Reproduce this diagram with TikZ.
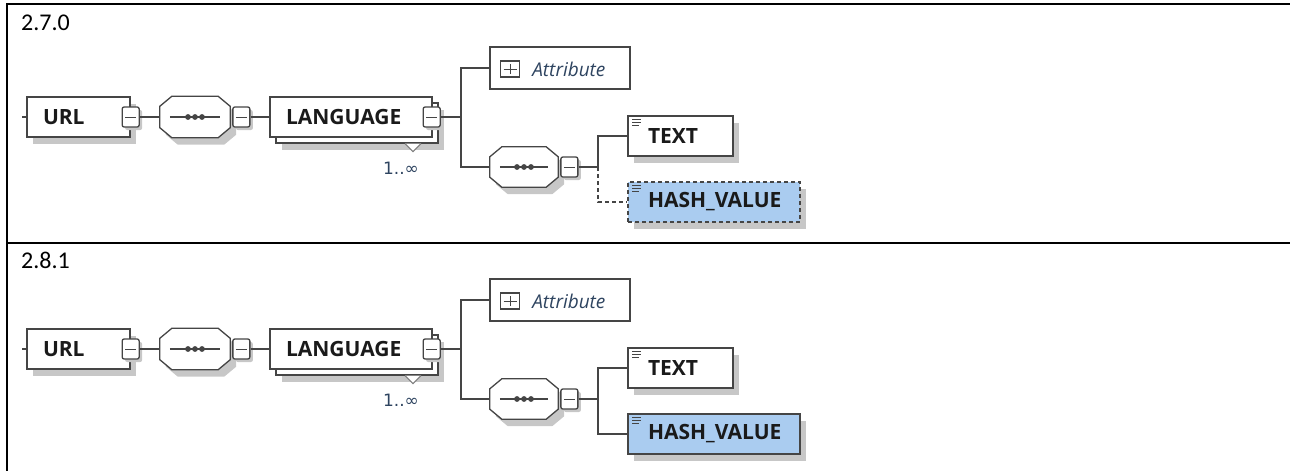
\documentclass[tikz,border=0pt]{standalone}
\usepackage{fontspec}
\setmainfont{Carlito}
\newfontfamily\xsdfont{Open Sans}
\newfontfamily\xsdsym{DejaVu Sans}
\usetikzlibrary{shadows, positioning}
\definecolor{boxline}{HTML}{454545}
\definecolor{labeltext}{HTML}{1A1A1A}
\definecolor{hashfill}{RGB}{170,204,240}
\definecolor{cardtext}{HTML}{2E4460}
\newcommand\xsdlabel{\xsdfont\bfseries\fontsize{21}{23}\selectfont}
\newcommand\xsdattr{\xsdfont\itshape\fontsize{19}{21}\selectfont}
% octagon of a sequence compositor, drawn round its node
\newcommand\drawseq[1]{%
  \draw[seqline, boxshadow] ([xshift=12pt]#1.north west) -- ([xshift=-12pt]#1.north east)
    -- ([yshift=-10pt]#1.north east) -- ([yshift=10pt]#1.south east)
    -- ([xshift=-12pt]#1.south east) -- ([xshift=12pt]#1.south west)
    -- ([yshift=10pt]#1.south west) -- ([yshift=-10pt]#1.north west) -- cycle;
  \draw[boxline, line width=1.1pt] ([xshift=10pt]#1.west) -- ([xshift=-10pt]#1.east);
  \foreach \k in {-7,0,7}
    \fill[boxline] ([xshift=\k pt]#1.center) circle (2.9pt);
}

\tikzset{
  frame/.style={line width=2.2pt, black},
  conn/.style={draw=boxline, line width=1.3pt},
  boxshadow/.style={drop shadow={shadow xshift=6pt, shadow yshift=-7pt, fill=black!22, opacity=1}},
  elembase/.style={draw=boxline, line width=1.3pt, fill=white, text width=#1, align=left,
    inner xsep=16pt, inner ysep=0pt, minimum height=40pt, font=\xsdlabel, text=labeltext},
  elem/.style={elembase=#1, boxshadow},
  seq/.style={rectangle, inner sep=0pt},
  seqline/.style={draw=boxline, line width=1.3pt, fill=white},
  minus/.style={draw=boxline, line width=1.3pt, fill=white, rounded corners=2pt, inner sep=0pt,
    minimum width=17pt, minimum height=20pt,
    drop shadow={shadow xshift=3pt, shadow yshift=-3pt, fill=black!22, opacity=1},
    path picture={
      \draw[boxline, line width=1pt] ([xshift=3pt]path picture bounding box.west) -- ([xshift=-3pt]path picture bounding box.east);
    }},
  plus/.style={draw=boxline, line width=1.2pt, inner sep=0pt, minimum width=19pt, minimum height=16pt,
    path picture={
      \draw[boxline, line width=1pt] ([xshift=3pt]path picture bounding box.west) -- ([xshift=-3pt]path picture bounding box.east);
      \draw[boxline, line width=1pt] ([yshift=3pt]path picture bounding box.south) -- ([yshift=-3pt]path picture bounding box.north);
    }},
  attrbox/.style={draw=boxline, line width=1.3pt, fill=white, minimum width=140pt, minimum height=42pt, inner sep=0pt},
  notch/.style={draw=boxline!70, line width=1.1pt, fill=white},
  icon/.style={draw=boxline, line width=0.8pt},
  card/.style={font=\xsdsym\fontsize{17}{19}\selectfont, text=cardtext, inner sep=0pt},
  version/.style={font=\fontsize{24}{26}\selectfont, anchor=base west, inner sep=0pt},
  optional/.style={dash pattern=on 4pt off 3pt},
  required/.style={solid}
}

\begin{document}
\begin{tikzpicture}[x=1pt, y=-1pt]
\useasboundingbox (0,0) rectangle (1290,471);

% Table rules
\draw[frame] (7,471) |- (1290,4);
\draw[frame] (7,243) -- (1290,243);

\foreach \p/\dy/\ly/\hstyle/\ver in {a/0/0/optional/2.7.0, b/232/238/required/2.8.1}
{
  \node[version] (\p ver) at (21,30+\ly) {\ver};

  % Main chain
  \coordinate (\p stub) at (22,117+\dy);
  \node[elem=71pt] (\p url) at (78.5,117+\dy) {URL};
  \node[minus] (\p urlm) at (\p url.east) {};
  \node[seq, minimum width=70pt, minimum height=41pt] (\p seqa) at (195,117+\dy) {};
  \drawseq{\p seqa}
  \node[minus, right=2pt of \p seqa] (\p seqam) {};
  \node[elem=130pt] (\p langbk) at (357,123+\dy) {};
  \node[elembase=130pt] (\p lang) at (351,117+\dy) {LANGUAGE};
  \node[minus] (\p langm) at ([xshift=-1pt]\p lang.east) {};
  \draw[notch] ([xshift=48pt]\p langbk.south) -- ++(8,8) -- ++(8,-8);
  \node[card] (\p card) at (401,168+\dy) {1..∞};
  \coordinate (\p fork) at (461,117+\dy);

  % Children of LANGUAGE
  \node[attrbox] (\p attr) at (560,68+\dy) {};
  \node[plus] (\p attrp) at (510,69+\dy) {};
  \node[font=\xsdattr, text=cardtext, anchor=west, inner sep=0pt] (\p attrt) at ([xshift=12pt]\p attrp.east) {Attribute};
  \node[seq, minimum width=68pt, minimum height=40pt] (\p seqb) at (524,167+\dy) {};
  \drawseq{\p seqb}
  \node[minus, right=2pt of \p seqb] (\p seqbm) {};
  \coordinate (\p forkb) at (598,167+\dy);
  \node[elem=73pt] (\p text) at (680.5,136+\dy) {\hspace*{4pt}TEXT};
  \node[elem=140pt, fill=hashfill, \hstyle] (\p hash) at (714,202+\dy) {\hspace*{4pt}HASH\_VALUE};
  \foreach \n in {text,hash}
  {
    \draw[icon] ([shift={(5,4)}]\p\n.north west) -- ++(9,0);
    \draw[icon] ([shift={(5,7)}]\p\n.north west) -- ++(9,0);
    \draw[icon] ([shift={(5,10)}]\p\n.north west) -- ++(7,0);
  }

  % Connectors
  \draw[conn] (\p stub) -- (\p url.west);
  \draw[conn] (\p urlm) -- (\p seqa);
  \draw[conn] (\p seqam) -- (\p lang);
  \draw[conn] (\p langm) -- (\p fork);
  \draw[conn] (\p fork) |- (\p attr);
  \draw[conn] (\p fork) |- (\p seqb);
  \draw[conn] (\p seqbm) -- (\p forkb);
  \draw[conn] (\p forkb) |- (\p text);
  \draw[conn, \hstyle] (\p forkb) |- (\p hash);
}
\end{tikzpicture}
\end{document}
